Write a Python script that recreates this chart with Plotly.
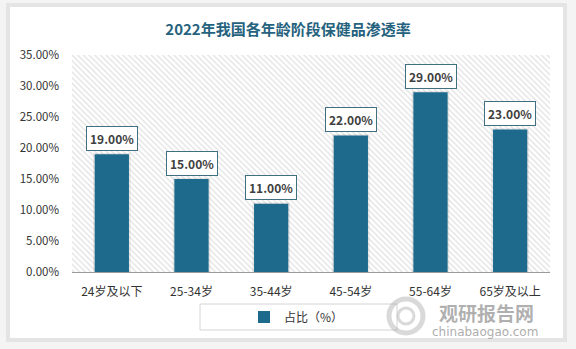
import plotly.graph_objects as go

# ---- data ----
categories = ["24岁及以下", "25-34岁", "35-44岁", "45-54岁", "55-64岁", "65岁及以上"]
values = [19.00, 15.00, 11.00, 22.00, 29.00, 23.00]
y_ticks = [0, 5, 10, 15, 20, 25, 30, 35]
y_tick_labels = [f"{t:.2f}%" for t in y_ticks]
series_name = "占比（%）"
title_text = "2022年我国各年龄阶段保健品渗透率"

W, H = 576, 349
L, R, T, B = 72, 26, 55, 77
PW, PH = W - L - R, H - T - B

def px(x):
    return (x - L) / PW

def py(y):
    return 1 - (y - T) / PH

FONT = "Microsoft YaHei, Noto Sans CJK SC, sans-serif"
BAR = "#1d6a8c"
xpos = list(range(len(categories)))

fig = go.Figure()

# hatched plot background
fig.add_trace(go.Bar(
    x=[(len(categories) - 1) / 2], y=[y_ticks[-1]], width=[len(categories)],
    marker=dict(color="white", line=dict(width=0),
                pattern=dict(shape="\\", fgcolor="#c2c2c2", bgcolor="white", size=4, solidity=0.3)),
    showlegend=False, hoverinfo="skip"))

# bar glow
fig.add_trace(go.Bar(
    x=xpos, y=[v + 0.2 for v in values], width=0.47,
    marker=dict(color="rgba(0,0,0,0.08)", line=dict(width=0)),
    showlegend=False, hoverinfo="skip"))

fig.add_trace(go.Bar(
    x=xpos, y=values, width=0.43, name=series_name,
    marker=dict(color=BAR, line=dict(width=0))))

shapes = [
    dict(type="rect", xref="paper", yref="paper", x0=px(6), x1=px(567), y0=py(3), y1=py(342),
         fillcolor="#e4e4e4", line=dict(width=0), layer="below"),
    dict(type="rect", xref="paper", yref="paper", x0=px(10), x1=px(563), y0=py(7), y1=py(338),
         fillcolor="white", line=dict(width=0), layer="below"),
    dict(type="rect", xref="paper", yref="paper", x0=px(200), x1=px(397), y0=py(304), y1=py(330),
         fillcolor="rgba(0,0,0,0)", line=dict(color="#d4d4d4", width=1), layer="below"),
    # watermark logo
    dict(type="circle", xref="paper", yref="paper", x0=px(389), x1=px(423), y0=py(299), y1=py(333),
         line=dict(color="rgba(170,170,170,0.45)", width=5), layer="above"),
    dict(type="circle", xref="paper", yref="paper", x0=px(398), x1=px(414), y0=py(308), y1=py(324),
         line=dict(color="rgba(170,170,170,0.45)", width=3), layer="above"),
]

annotations = []
for i, v in enumerate(values):
    annotations.append(dict(
        x=i, y=v, xref="x", yref="y", text=f"<b>{v:.2f}%</b>", showarrow=False,
        yshift=16, font=dict(family=FONT, size=12, color="#404040"),
        bgcolor="white", bordercolor="#3f6f80", borderwidth=1, borderpad=3))

annotations.append(dict(x=px(486), y=py(312), xref="paper", yref="paper", text="<b>观研报告网</b>",
                        xanchor="center", yanchor="middle", showarrow=False,
                        font=dict(family=FONT, size=19, color="rgba(150,150,150,0.75)")))
annotations.append(dict(x=px(485), y=py(332), xref="paper", yref="paper", text="chinabaogao.com",
                        xanchor="center", yanchor="middle", showarrow=False,
                        font=dict(family="DejaVu Sans", size=12, color="rgba(150,150,150,0.8)")))

fig.update_layout(
    width=W, height=H,
    margin=dict(l=L, r=R, t=T, b=B),
    paper_bgcolor="#f4f4f4", plot_bgcolor="rgba(0,0,0,0)",
    barmode="overlay",
    title=dict(text=f"<b>{title_text}</b>", x=px(288), xref="paper", xanchor="center",
               y=1 - 30 / H, yanchor="middle",
               font=dict(family=FONT, size=15, color="#25627e")),
    font=dict(family=FONT, size=12, color="#333333"),
    showlegend=True,
    legend=dict(orientation="h", x=px(244), xanchor="left", y=py(317), yanchor="middle",
                font=dict(family=FONT, size=12, color="#333333"),
                bgcolor="rgba(0,0,0,0)", itemwidth=30),
    xaxis=dict(range=[-0.5, len(categories) - 0.5], tickvals=xpos, ticktext=categories,
               showgrid=False, zeroline=False, showline=True, linecolor="#9a9a9a", linewidth=1,
               ticks="", ticklabelstandoff=9, tickfont=dict(size=12, color="#333333")),
    yaxis=dict(range=[0, 35], tickvals=y_ticks, ticktext=y_tick_labels,
               showgrid=False, zeroline=False, showline=False, ticks="",
               ticklabelstandoff=12, tickfont=dict(size=11.5, color="#333333")),
    shapes=shapes, annotations=annotations,
)

fig.write_html("out.html")
